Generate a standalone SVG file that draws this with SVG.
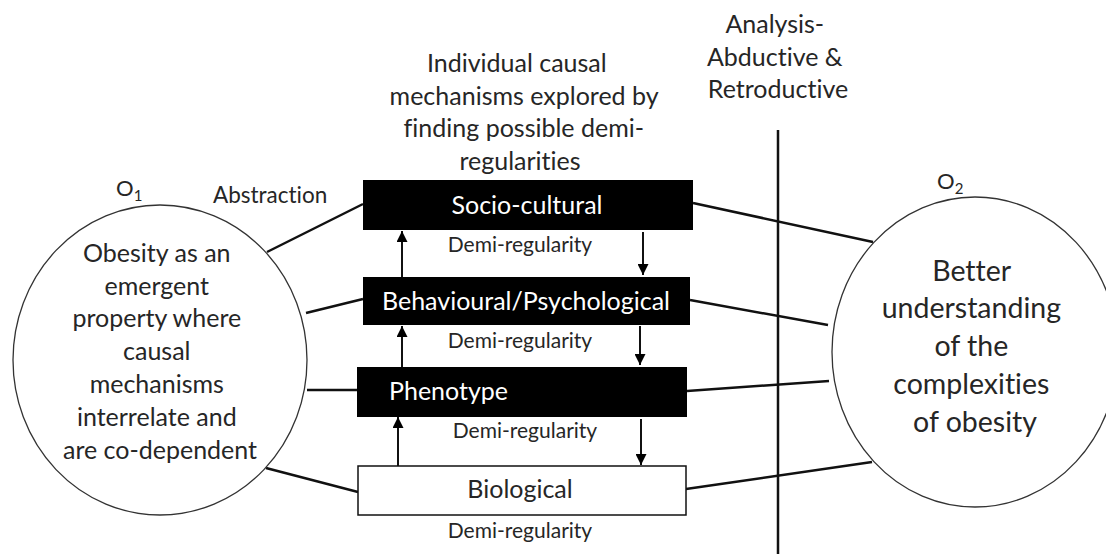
<svg xmlns="http://www.w3.org/2000/svg" width="1106" height="554" viewBox="0 0 1106 554">
<defs>
<marker id="ah" viewBox="0 0 10 10" refX="10" refY="5" markerWidth="11" markerHeight="11" markerUnits="userSpaceOnUse" orient="auto">
<path d="M0,0 L10,5 L0,10 z" fill="#000"/>
</marker>
<style>
text{font-family:Lato,"Noto Sans",sans-serif;fill:#262626;font-variant-ligatures:none}
.c{text-anchor:middle}
.w{fill:#fff}
.ln{stroke:#111;stroke-width:2.5;fill:none}
.ar{stroke:#111;stroke-width:2;fill:none;marker-end:url(#ah)}
.circ{fill:#fff;stroke:#333;stroke-width:1.3}
.blk{fill:#000}
.bt{font-size:25px}
.dr{font-size:21px}
</style>
</defs>
<rect width="1106" height="554" fill="#fff"/>
<g id="connectors">
<line class="ln" x1="267" y1="252" x2="363" y2="204"/>
<line class="ln" x1="306" y1="313" x2="363" y2="299"/>
<line class="ln" x1="307" y1="390" x2="357" y2="390"/>
<line class="ln" x1="266" y1="468" x2="358" y2="492"/>
<line class="ln" x1="693" y1="203" x2="873" y2="242"/>
<line class="ln" x1="690" y1="300" x2="828" y2="325"/>
<line class="ln" x1="687" y1="391" x2="829" y2="381"/>
<line class="ln" x1="686" y1="489" x2="872" y2="462"/>
<line stroke="#111" stroke-width="2.5" x1="778" y1="130" x2="778" y2="554"/>
<line class="ar" x1="402" y1="277" x2="402" y2="231"/>
<line class="ar" x1="643" y1="232" x2="643" y2="275"/>
<line class="ar" x1="402" y1="367" x2="402" y2="326"/>
<line class="ar" x1="640" y1="326" x2="640" y2="365"/>
<line class="ar" x1="398" y1="466" x2="398" y2="417"/>
<line class="ar" x1="641" y1="419" x2="641" y2="465"/>
</g>
<g id="o1">
<ellipse class="circ" cx="160" cy="360" rx="147" ry="155"/>
<text x="116" y="196" font-size="22">O<tspan font-size="15" dy="5">1</tspan></text>
<text class="c" font-size="25">
<tspan x="160" y="262">Obesity as an</tspan>
<tspan x="160" y="295">emergent</tspan>
<tspan x="160" y="327">property where</tspan>
<tspan x="160" y="360">causal</tspan>
<tspan x="160" y="393">mechanisms</tspan>
<tspan x="160" y="426">interrelate and</tspan>
<tspan x="160" y="459">are co-dependent</tspan></text>
</g>
<g id="abstraction"><text x="213" y="203" font-size="22.5">Abstraction</text></g>
<g id="title"><text class="c" font-size="25">
<tspan x="520" y="72">Individual causal</tspan>
<tspan x="527" y="105">mechanisms explored by</tspan>
<tspan x="527" y="137">finding possible demi-</tspan>
<tspan x="520" y="170">regularities</tspan></text></g>
<g id="socio">
<rect class="blk" x="363" y="180" width="330" height="50"/>
<text class="c w bt" x="527" y="214">Socio-cultural</text>
<text class="c dr" x="520" y="252">Demi-regularity</text>
</g>
<g id="behav">
<rect class="blk" x="363" y="277" width="327" height="48"/>
<text class="c w bt" x="526" y="310">Behavioural/Psychological</text>
<text class="c dr" x="520" y="348">Demi-regularity</text>
</g>
<g id="pheno">
<rect class="blk" x="357" y="367" width="330" height="50"/>
<text class="w bt" x="389" y="400">Phenotype</text>
<text class="c dr" x="525" y="438">Demi-regularity</text>
</g>
<g id="bio">
<rect x="358" y="466" width="328" height="49" fill="#fff" stroke="#111" stroke-width="1.5"/>
<text class="c bt" x="520" y="498">Biological</text>
<text class="c dr" x="520" y="538">Demi-regularity</text>
</g>
<g id="analysis"><text class="c" font-size="25">
<tspan x="778" y="33">Analysis-</tspan>
<tspan x="778" y="66">Abductive &amp;</tspan>
<tspan x="778" y="98">Retroductive</tspan></text></g>
<g id="o2">
<ellipse class="circ" cx="975" cy="352" rx="143" ry="155"/>
<text x="937" y="189" font-size="22">O<tspan font-size="15" dy="5">2</tspan></text>
<text class="c" font-size="28.5">
<tspan x="975" y="281">Better</tspan>
<tspan x="975" y="318">understanding</tspan>
<tspan x="975" y="356">of the</tspan>
<tspan x="975" y="394">complexities</tspan>
<tspan x="975" y="432">of obesity</tspan></text>
</g>
</svg>
